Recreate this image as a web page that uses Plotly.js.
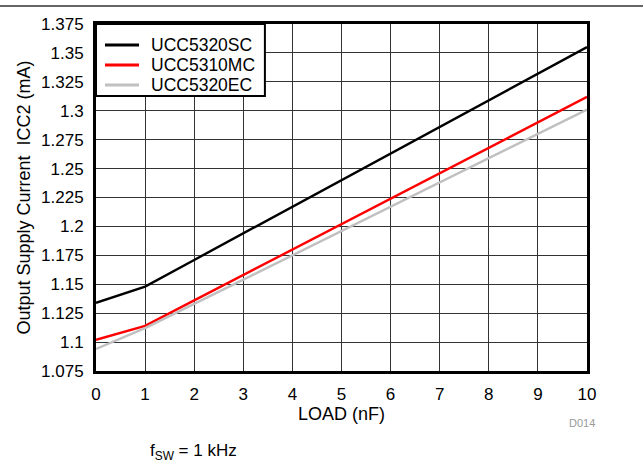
<!DOCTYPE html>
<html>
<head>
<meta charset="utf-8">
<script src="https://cdn.plot.ly/plotly-3.0.1.min.js"></script>
<style>html,body{margin:0;padding:0;background:#fff;}#chart{width:643px;height:466px;}</style>
</head>
<body>
<div id="chart"></div>
<script>
const loadNF = [0, 1, 2, 3, 4, 5, 6, 7, 8, 9, 10];
const ucc5320sc = [1.134, 1.148, 1.171, 1.194, 1.217, 1.240, 1.263, 1.286, 1.309, 1.332, 1.355];
const ucc5310mc = [1.102, 1.114, 1.136, 1.158, 1.180, 1.202, 1.224, 1.246, 1.268, 1.290, 1.312];
const ucc5320ec = [1.094, 1.112, 1.133, 1.154, 1.175, 1.196, 1.217, 1.238, 1.259, 1.280, 1.301];
const seriesNames = ["UCC5320SC", "UCC5310MC", "UCC5320EC"];
const seriesColors = ["#000000", "#ff0000", "#c0c0c0"];
const yTicks = [1.075, 1.1, 1.125, 1.15, 1.175, 1.2, 1.225, 1.25, 1.275, 1.3, 1.325, 1.35, 1.375];
const yTickText = ["1.075", "1.1", "1.125", "1.15", "1.175", "1.2", "1.225", "1.25", "1.275", "1.3", "1.325", "1.35", "1.375"];

const F = "Liberation Sans, Arial, sans-serif";
const seriesY = [ucc5320sc, ucc5310mc, ucc5320ec];
const traces = seriesY.map((ys, i) => ({
  x: loadNF, y: ys, name: seriesNames[i], mode: "lines",
  line: {color: seriesColors[i], width: 2.4}, showlegend: false
}));

// manual legend (paper coordinates)
const legendRowsY = [0.9395, 0.8818, 0.8242];
const shapes = [
  {type: "line", xref: "paper", yref: "paper", x0: -0.2, x1: 1.12, y0: 1.052, y1: 1.052, line: {color: "#666", width: 2}},
  {type: "rect", xref: "paper", yref: "paper", x0: 0, x1: 0.344, y0: 0.7925, y1: 1, fillcolor: "#fff", line: {color: "#000", width: 2}, layer: "above"}
];
const annotations = [
  {text: "D014", xref: "paper", yref: "paper", x: 1.02, y: -0.15, yanchor: "middle", showarrow: false, font: {family: F, size: 11, color: "#999"}},
  {text: "f<sub>SW</sub> = 1 kHz", xref: "paper", yref: "paper", x: 0.106, y: -0.233, xanchor: "left", yanchor: "middle", showarrow: false, font: {family: F, size: 17, color: "#000"}}
];
seriesNames.forEach((nm, i) => {
  shapes.push({type: "line", xref: "paper", yref: "paper", x0: 0.0183, x1: 0.0876, y0: legendRowsY[i], y1: legendRowsY[i],
               line: {color: seriesColors[i], width: 3}, layer: "above"});
  annotations.push({text: nm, xref: "paper", yref: "paper", x: 0.107, y: legendRowsY[i], xanchor: "left", yanchor: "middle",
                    showarrow: false, font: {family: F, size: 17.5, color: "#000"}});
});

const layout = {
  width: 643, height: 466,
  margin: {l: 96, r: 56, t: 24, b: 95},
  paper_bgcolor: "#fff", plot_bgcolor: "#fff",
  font: {family: F, color: "#000", size: 17},
  showlegend: false,
  xaxis: {range: [0, 10], tickvals: loadNF, ticks: "", showgrid: true, gridcolor: "#333", gridwidth: 1,
          zeroline: false, showline: true, linecolor: "#000", linewidth: 3, mirror: true, ticklabelstandoff: 6,
          tickfont: {family: F, size: 17}, title: {text: "LOAD (nF)", font: {family: F, size: 18}, standoff: 2}},
  yaxis: {range: [1.075, 1.375], tickvals: yTicks, ticktext: yTickText, ticks: "", showgrid: true, gridcolor: "#333", gridwidth: 1,
          zeroline: false, showline: true, linecolor: "#000", linewidth: 3, mirror: true, ticklabelstandoff: 6,
          tickfont: {family: F, size: 17}, title: {text: "Output Supply Current \u00a0ICC2 (mA)", font: {family: F, size: 18}, standoff: 6}},
  shapes: shapes,
  annotations: annotations
};
Plotly.newPlot("chart", traces, layout, {displayModeBar: false, staticPlot: true});
</script>
</body>
</html>
